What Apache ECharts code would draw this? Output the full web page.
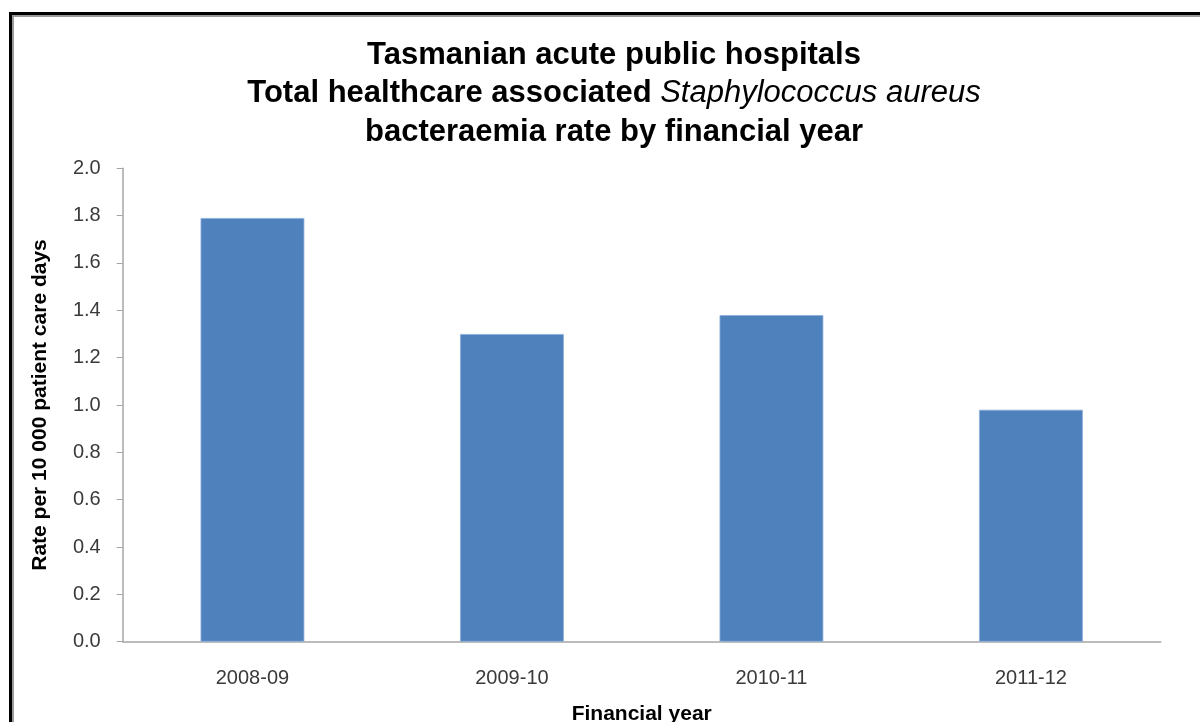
<!DOCTYPE html>
<html>
<head>
<meta charset="utf-8">
<script src="https://cdn.jsdelivr.net/npm/echarts@6/dist/echarts.min.js"></script>
<style>
  html, body { margin: 0; padding: 0; background: #fff; }
  #frame {
    position: absolute; left: 9px; top: 12px; width: 1191px; height: 710px;
    border-left: 3px solid #000; border-top: 3px solid #000;
    box-shadow: inset 2px 2px 0 #9a9a9a;
    box-sizing: border-box;
  }
  #chart { position: absolute; left: 0; top: 0; width: 1200px; height: 722px; }
</style>
</head>
<body>
<div id="frame"></div>
<div id="chart"></div>
<script>
// financial years and SAB rate per 10 000 patient care days
const years = ['2008-09', '2009-10', '2010-11', '2011-12']
const rates = [1.79, 1.30, 1.38, 0.98]

const font = 'Liberation Sans, Arial, sans-serif'
const chart = echarts.init(document.getElementById('chart'))

const option = {
  animation: false,
  title: {
    text: '{b|Tasmanian acute public hospitals}\n{b|Total healthcare associated }{i|Staphylococcus aureus}\n{b|bacteraemia rate by financial year}',
    left: 609,
    top: 31,
    textAlign: 'center',
    textStyle: {
      fontFamily: font,
      lineHeight: 38.5,
      rich: {
        b: { fontSize: 31, fontWeight: 'bold', color: '#000', lineHeight: 38.5, fontFamily: font },
        i: { fontSize: 31, fontWeight: 'normal', fontStyle: 'italic', color: '#000', lineHeight: 38.5, fontFamily: font }
      }
    }
  },
  grid: {
    left: 122.7,
    right: 39.3,
    top: 168.3,
    bottom: 80.3,
    containLabel: false,
    outerBoundsMode: 'none'
  },
  xAxis: {
    type: 'category',
    data: years,
    name: 'Financial year',
    nameLocation: 'middle',
    nameGap: 62,
    nameTextStyle: { fontSize: 21, fontWeight: 'bold', color: '#000', fontFamily: font },
    axisLine: { lineStyle: { color: '#a6a6a6', width: 1.5 } },
    axisTick: { show: false },
    axisLabel: { fontSize: 20, color: '#3a3a3a', margin: 27, fontFamily: font }
  },
  yAxis: {
    type: 'value',
    min: 0,
    max: 2,
    interval: 0.2,
    name: 'Rate per 10 000 patient care days',
    nameLocation: 'middle',
    nameGap: 72,
    nameTextStyle: { fontSize: 21, fontWeight: 'bold', color: '#000', fontFamily: font },
    axisLine: { show: true, lineStyle: { color: '#a6a6a6', width: 1.5 } },
    axisTick: { show: true, length: 6, lineStyle: { color: '#a6a6a6' } },
    splitLine: { show: false },
    axisLabel: {
      fontSize: 20,
      color: '#3a3a3a',
      margin: 22,
      fontFamily: font,
      formatter: v => v.toFixed(1)
    }
  },
  series: [
    {
      type: 'bar',
      data: rates,
      barWidth: '40%',
      itemStyle: {
        color: '#4F81BD',
        borderColor: '#8db0da',
        borderWidth: 0.8
      }
    }
  ]
}

chart.setOption(option)
</script>
</body>
</html>
